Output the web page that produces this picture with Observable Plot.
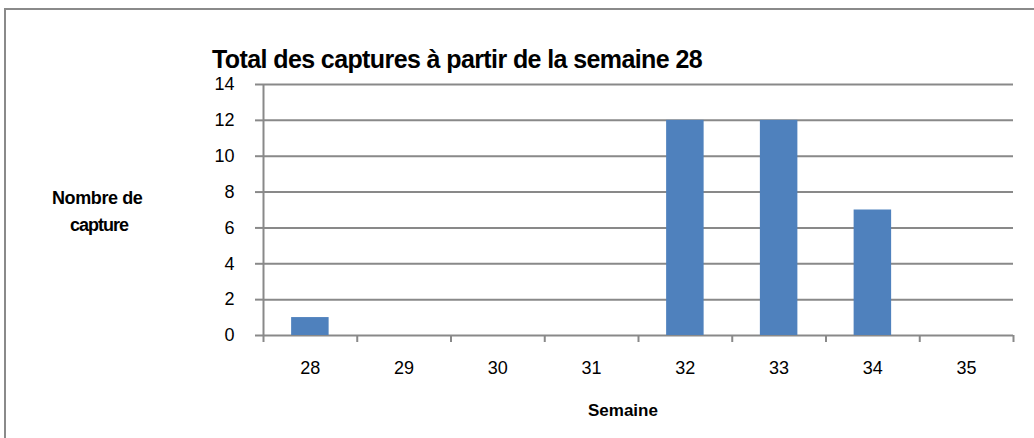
<!DOCTYPE html>
<html>
<head>
<meta charset="utf-8">
<script src="https://cdn.jsdelivr.net/npm/d3@7"></script>
<script src="https://cdn.jsdelivr.net/npm/@observablehq/plot@0.6"></script>
<style>
  html, body { margin: 0; padding: 0; background: #fff; }
  #wrap { position: relative; width: 1034px; height: 438px; overflow: hidden; font-family: "Liberation Sans", Arial, sans-serif; }
  #frame { position: absolute; left: 4px; top: 8px; width: 1100px; height: 500px; border: 2px solid #8a8a8a; box-sizing: border-box; }
  #chart { position: absolute; left: 0; top: 0; }
  .lbl { position: absolute; font-weight: bold; color: #000; white-space: nowrap; line-height: 1; }
  #title { left: 212px; top: 47px; font-size: 25px; letter-spacing: -0.6px; }
  #ylab1 { left: 52px; top: 189px; font-size: 18px; letter-spacing: -0.4px; }
  #ylab2 { left: 70px; top: 216px; font-size: 18px; letter-spacing: -1px; }
  #xlab { left: 588px; top: 402px; font-size: 17px; letter-spacing: 0px; }
</style>
</head>
<body>
<div id="wrap">
  <div id="frame"></div>
  <div id="chart"></div>
  <div class="lbl" id="title">Total des captures à partir de la semaine 28</div>
  <div class="lbl" id="ylab1">Nombre de</div>
  <div class="lbl" id="ylab2">capture</div>
  <div class="lbl" id="xlab">Semaine</div>
</div>
<script>
const weeks = [28, 29, 30, 31, 32, 33, 34, 35];
const captures = [1, 0, 0, 0, 12, 12, 7, 0];
const yTicks = [0, 2, 4, 6, 8, 10, 12, 14];

const data = weeks.map((w, i) => ({week: w, count: captures[i]}));
const boundaries = weeks.map(w => w - 0.5).concat([weeks[weeks.length - 1] + 0.5]);
const grey = "#898989";

const plot = Plot.plot({
  width: 1034,
  height: 438,
  marginLeft: 263,
  marginRight: 21,
  marginTop: 84,
  marginBottom: 103,
  style: {fontFamily: "'Liberation Sans', Arial, sans-serif", background: "transparent", overflow: "visible"},
  x: {type: "linear", domain: [boundaries[0], boundaries[boundaries.length - 1]]},
  y: {domain: [0, 14]},
  marks: [
    Plot.gridY(yTicks, {stroke: grey, strokeOpacity: 1, strokeWidth: 2}),
    Plot.ruleX([boundaries[0]], {stroke: grey, strokeWidth: 2}),
    Plot.rectY(data.filter(d => d.count > 0), {x1: d => d.week - 0.2, x2: d => d.week + 0.2, y: "count", fill: "#4F81BD"}),
    Plot.axisY({ticks: yTicks, tickSize: 8, tickPadding: 21, stroke: grey, strokeWidth: 2, strokeOpacity: 1, fontSize: 18, fill: "#000", label: null}),
    Plot.axisX({ticks: boundaries, tickSize: 7, tickFormat: () => "", stroke: grey, strokeWidth: 2, strokeOpacity: 1, label: null}),
    Plot.axisX({ticks: weeks, tickSize: 0, tickPadding: 26, fontSize: 18, fill: "#000", label: null, tickFormat: d => String(d), style: {letterSpacing: "0.3px"}})
  ]
});
document.getElementById("chart").appendChild(plot);
</script>
</body>
</html>
